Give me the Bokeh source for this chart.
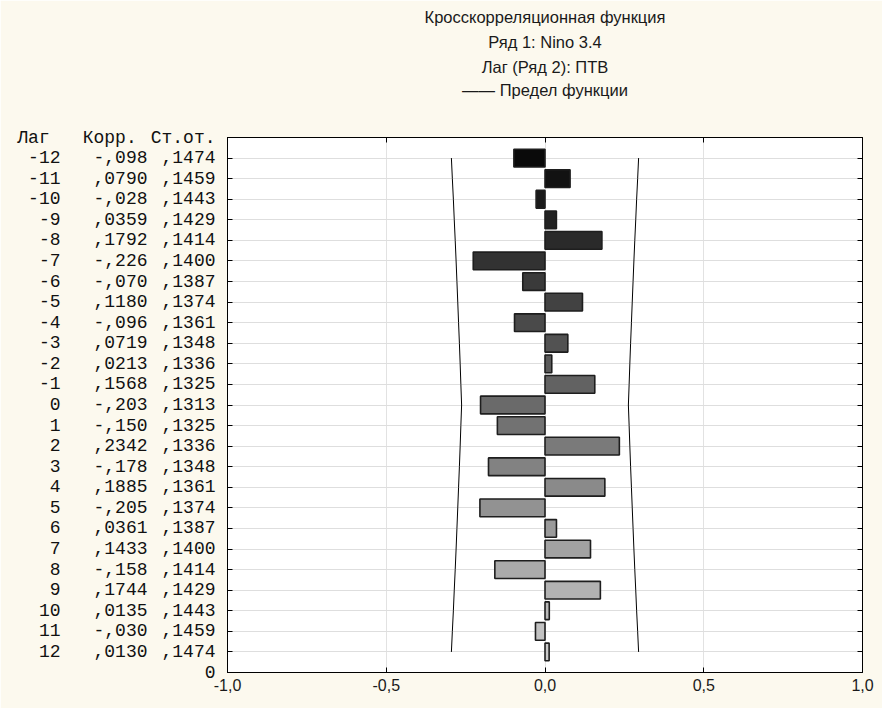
from bokeh.plotting import figure
from bokeh.models import ColumnDataSource, LinearAxis, FixedTicker, Range1d, Title
from bokeh.embed import file_html
from bokeh.resources import INLINE

# ---------------- data ----------------
lags = list(range(-12, 13))
corr = [-0.098, 0.0790, -0.028, 0.0359, 0.1792, -0.226, -0.070, 0.1180, -0.096,
        0.0719, 0.0213, 0.1568, -0.203, -0.150, 0.2342, -0.178, 0.1885, -0.205,
        0.0361, 0.1433, -0.158, 0.1744, 0.0135, -0.030, 0.0130]
se = [0.1474, 0.1459, 0.1443, 0.1429, 0.1414, 0.1400, 0.1387, 0.1374, 0.1361,
      0.1348, 0.1336, 0.1325, 0.1313, 0.1325, 0.1336, 0.1348, 0.1361, 0.1374,
      0.1387, 0.1400, 0.1414, 0.1429, 0.1443, 0.1459, 0.1474]
title_lines = ["Кросскорреляционная функция", "Ряд 1: Nino 3.4",
               "Лаг (Ряд 2): ПТВ", "—— Предел функции"]
header = ["Лаг", "Корр.", "Ст.от."]
x_ticks = [-1.0, -0.5, 0.0, 0.5, 1.0]
x_tick_labels = ["-1,0", "-0,5", "0,0", "0,5", "1,0"]
limit_factor = 2.0


def fmt(v, neg_digits=3, pos_digits=4):
    if v < 0:
        return "-" + f"{-v:.{neg_digits}f}"[1:].replace(".", ",")
    return f"{v:.{pos_digits}f}"[1:].replace(".", ",")


n = len(lags)
rows = [n - i for i in range(n)]          # lag -12 at top
top = n + 1
shades = [int(10 + i * (202 - 10) / (n - 1)) for i in range(n)]
colors = ["#%02x%02x%02x" % (s, s, s) for s in shades]

src = ColumnDataSource(dict(
    y=rows, corr=corr, color=colors,
    upper=[limit_factor * s for s in se],
    lower=[-limit_factor * s for s in se],
))

BG = "#fcf9ee"
SANS = "Liberation Sans"
MONO = "Liberation Mono"
NB = "\u00a0"

p = figure(width=882, height=708, output_backend="svg", toolbar_location=None,
           x_range=Range1d(-1, 1), y_range=Range1d(0, top),
           min_border_left=227, min_border_right=20, min_border_top=137,
           min_border_bottom=36, background_fill_color="white",
           border_fill_color=BG, outline_line_color="black", outline_line_width=1)
p.title = None

# bottom axis
ax = p.below[0]
ax.ticker = FixedTicker(ticks=x_ticks)
ax.major_label_overrides = {t: l for t, l in zip(x_ticks, x_tick_labels)}
ax.major_tick_in = 5
ax.major_tick_out = 0
ax.minor_tick_line_color = None
ax.axis_line_color = "black"
ax.major_label_text_font = SANS
ax.major_label_text_font_size = "16px"
ax.major_label_text_color = "#1a1a1a"
ax.major_label_standoff = 6

# top axis (ticks only) -- closest to the frame
at = LinearAxis(ticker=FixedTicker(ticks=x_ticks), major_tick_in=5, major_tick_out=0,
                minor_tick_line_color=None, major_label_text_font_size="0px",
                major_label_standoff=0)
at.major_label_overrides = {t: "" for t in x_ticks}
p.add_layout(at, "above")

# empty spacer between the frame and the title block
p.add_layout(Title(text=NB, text_font=SANS, text_font_size="16.5px", standoff=18),
             "above")

# title lines, added from the frame outwards
for txt, so in zip(reversed(title_lines), [1, 5, 5, 6]):
    p.add_layout(Title(text=txt, align="center", text_font=SANS,
                       text_font_size="16.5px", text_font_style="normal",
                       text_color="#1a1a1a", standoff=so), "above")

# grids
p.xgrid.ticker = FixedTicker(ticks=[-0.5, 0.0, 0.5])
p.xgrid.grid_line_color = "#e2e2e2"
p.ygrid.ticker = FixedTicker(ticks=rows)
p.ygrid.grid_line_color = "#dedede"

# bars
p.hbar(y="y", left=0, right="corr", height=0.86, fill_color="color",
       line_color="#1e1e1e", line_width=1.6, source=src)

# limit lines
p.line(x="upper", y="y", line_color="black", line_width=1, source=src)
p.line(x="lower", y="y", line_color="black", line_width=1, source=src)

# left axis = standard-error column (closest to frame)
mono_style = dict(major_label_text_font=MONO, major_label_text_font_size="18px",
                  major_label_text_color="#111111")
ay = p.left[0]
ay.ticker = FixedTicker(ticks=[0] + rows + [top])
ay.major_label_overrides = {**{r: fmt(s) for r, s in zip(rows, se)},
                            0: "0", top: header[2]}
ay.major_tick_in = 5
ay.major_tick_out = 0
ay.minor_tick_line_color = None
ay.major_label_standoff = 12
for k, v in mono_style.items():
    setattr(ay, k, v)

# correlation column
ac = LinearAxis(ticker=FixedTicker(ticks=rows + [top]), axis_line_color=None,
                major_tick_line_color=None, minor_tick_line_color=None,
                major_tick_in=0, major_tick_out=0, major_label_standoff=0,
                **mono_style)
ac.major_label_overrides = {**{r: fmt(c) for r, c in zip(rows, corr)},
                            top: header[1] + NB}
p.add_layout(ac, "left")

# lag column
al = LinearAxis(ticker=FixedTicker(ticks=rows + [top]), axis_line_color=None,
                major_tick_line_color=None, minor_tick_line_color=None,
                major_tick_in=0, major_tick_out=0, major_label_standoff=19,
                **mono_style)
al.major_label_overrides = {**{r: str(l) for r, l in zip(rows, lags)},
                            top: header[0] + NB}
p.add_layout(al, "left")

# right axis (ticks only)
ar = LinearAxis(ticker=FixedTicker(ticks=rows), major_tick_in=5, major_tick_out=0,
                minor_tick_line_color=None, major_label_text_font_size="0px",
                major_label_standoff=0)
ar.major_label_overrides = {r: "" for r in rows}
p.add_layout(ar, "right")

open("out.html", "w").write(file_html(p, INLINE))
